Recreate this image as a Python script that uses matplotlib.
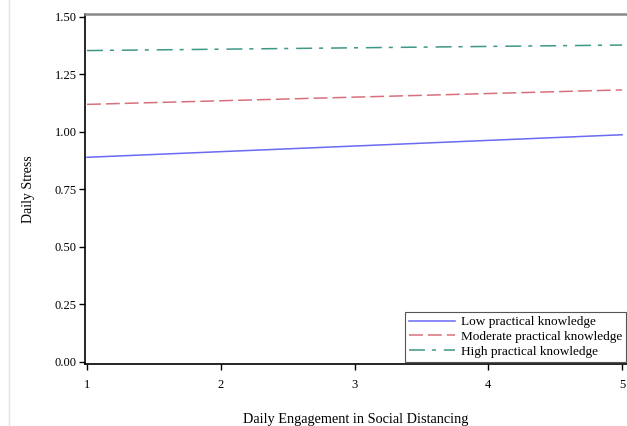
import matplotlib
matplotlib.use("Agg")
import matplotlib.pyplot as plt
from matplotlib.lines import Line2D

plt.rcParams['font.family'] = ['Liberation Serif', 'DejaVu Serif']
plt.rcParams['lines.scale_dashes'] = False

# predicted daily stress at the ends of the engagement range
engagement = [1, 5]
low_knowledge = [0.890, 0.988]
moderate_knowledge = [1.120, 1.183]
high_knowledge = [1.354, 1.378]

series_names = ['Low practical knowledge',
                'Moderate practical knowledge',
                'High practical knowledge']
x_ticks = [1, 2, 3, 4, 5]
y_ticks = [0.00, 0.25, 0.50, 0.75, 1.00, 1.25, 1.50]

fig = plt.figure(figsize=(6.27, 4.26), dpi=100)
ax = fig.add_axes([85 / 627, 62 / 426, 542 / 627, 350 / 426])

ax.plot(engagement, low_knowledge, color='#6a6af5', lw=1.1,
        label=series_names[0])
ax.plot(engagement, moderate_knowledge, color='#d8707c', lw=1.1,
        linestyle=(0, (10, 3.6)), label=series_names[1])
ax.plot(engagement, high_knowledge, color='#3f9787', lw=1.1,
        linestyle=(0, (11.5, 5, 2.9, 5.7)), label=series_names[2])

ax.set_xlim(0.985, 5.037)
ax.set_ylim(-0.0087, 1.513)
ax.set_xticks(x_ticks)
ax.set_yticks(y_ticks)
ax.set_yticklabels(['%.2f' % v for v in y_ticks])
ax.tick_params(direction='out', length=4, width=1, labelsize=9, pad=2)
ax.tick_params(axis='x', pad=7)

ax.spines['right'].set_visible(False)
ax.spines['top'].set_color('#888888')
ax.spines['top'].set_linewidth(1.8)
ax.spines['left'].set_linewidth(1.2)
ax.spines['bottom'].set_linewidth(1.2)

ax.set_xlabel('Daily Engagement in Social Distancing', fontsize=10.3, labelpad=16)
ax.set_ylabel('Daily Stress', fontsize=10, labelpad=14)

leg = ax.legend(loc='lower right', bbox_to_anchor=(0.998, 0.006), fontsize=9.5,
                frameon=True, fancybox=False, framealpha=1, edgecolor='#555555',
                handlelength=3.5, handletextpad=0.45, borderpad=0.3,
                labelspacing=0.2, borderaxespad=0)
leg.get_frame().set_linewidth(0.8)

# faint page border on the left
fig.add_artist(Line2D([9 / 627, 9 / 627], [0, 1], color='#e2e2e2', lw=1))

fig.savefig('out.png', dpi=100)
